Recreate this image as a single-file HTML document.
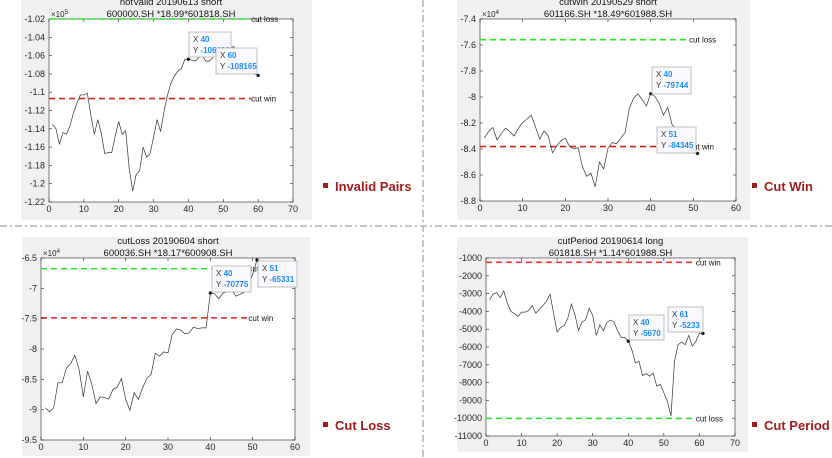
<!DOCTYPE html>
<html><head><meta charset="utf-8">
<style>
html,body{margin:0;padding:0;background:#fff;}
svg{display:block;font-family:"Liberation Sans",sans-serif;}
</style></head>
<body>
<svg id="c" width="832" height="458" viewBox="0 0 832 458" xmlns="http://www.w3.org/2000/svg"></svg>
<script>
// ---- data ----
const p1Values = [-1.135,-1.140,-1.157,-1.144,-1.146,-1.137,-1.123,-1.112,-1.103,-1.103,-1.101,-1.125,-1.146,-1.130,-1.145,-1.167,-1.166,-1.166,-1.148,-1.132,-1.146,-1.142,-1.183,-1.208,-1.190,-1.186,-1.160,-1.171,-1.167,-1.149,-1.130,-1.143,-1.121,-1.103,-1.090,-1.082,-1.077,-1.074,-1.064,-1.064,-1.065,-1.066,-1.062,-1.060,-1.066,-1.066,-1.062,-1.058,-1.056,-1.058,-1.054,-1.052,-1.050,-1.058,-1.064,-1.070,-1.074,-1.078,-1.080,-1.08165];
const p1Lines = [-1.02, -1.107];
const p1YTicks = [-1.22,-1.2,-1.18,-1.16,-1.14,-1.12,-1.1,-1.08,-1.06,-1.04,-1.02];
const p1XTicks = [0,10,20,30,40,50,60,70];

const p2Values = [-8.317,-8.266,-8.235,-8.33,-8.28,-8.24,-8.266,-8.30,-8.24,-8.196,-8.17,-8.14,-8.23,-8.325,-8.26,-8.30,-8.43,-8.376,-8.335,-8.317,-8.38,-8.40,-8.39,-8.535,-8.61,-8.585,-8.69,-8.50,-8.553,-8.394,-8.35,-8.36,-8.317,-8.273,-8.086,-8.01,-7.975,-8.02,-8.07,-7.9744,-7.996,-8.05,-8.14,-8.08,-8.21,-8.25,-8.30,-8.35,-8.40,-8.43,-8.4345];
const p2Lines = [-7.559, -8.381];
const p2YTicks = [-8.8,-8.6,-8.4,-8.2,-8,-7.8,-7.6,-7.4];
const p2XTicks = [0,10,20,30,40,50,60];

const p3Values = [-8.968,-9.034,-8.968,-8.557,-8.557,-8.31,-8.244,-8.10,-8.337,-8.79,-8.365,-8.584,-8.90,-8.79,-8.80,-8.825,-8.666,-8.63,-8.485,-8.83,-9.01,-8.72,-8.83,-8.64,-8.485,-8.42,-8.074,-8.118,-8.047,-8.063,-7.76,-7.668,-7.69,-7.75,-7.734,-7.64,-7.663,-7.652,-7.652,-7.0775,-7.09,-7.17,-7.08,-7.05,-6.995,-7.13,-7.10,-7.06,-6.94,-6.77,-6.5331];
const p3Lines = [-6.675, -7.487];
const p3YTicks = [-9.5,-9,-8.5,-8,-7.5,-7,-6.5];
const p3XTicks = [0,10,20,30,40,50,60];

const p4Values = [-3350,-3030,-2940,-3220,-2850,-3540,-4000,-4130,-4280,-4040,-4040,-3950,-3670,-4100,-3870,-3670,-3440,-3030,-4100,-5160,-4900,-4800,-4380,-3590,-4190,-5070,-4600,-4470,-3820,-4230,-5350,-4750,-5090,-4600,-4490,-4600,-5090,-5460,-5460,-5670,-6150,-6900,-6800,-7600,-7500,-7640,-7460,-8200,-8100,-8570,-9040,-9880,-6800,-5870,-5720,-5870,-5350,-5960,-5680,-5220,-5233];
const p4Lines = [-1240, -10010];
const p4YTicks = [-11000,-10000,-9000,-8000,-7000,-6000,-5000,-4000,-3000,-2000,-1000];
const p4XTicks = [0,10,20,30,40,50,60,70];

const NS = "http://www.w3.org/2000/svg";
const svg = document.getElementById('c');
function mk(tag, attrs, parent, text){
  const e = document.createElementNS(NS, tag);
  for (const k in attrs) e.setAttribute(k, attrs[k]);
  if (text !== undefined) e.textContent = text;
  (parent||svg).appendChild(e);
  return e;
}

function panel(cfg){
  const g = mk('g', {});
  
  
  const bg = mk('rect', {x:cfg.bg[0], y:cfg.bg[1], width:cfg.bg[2], height:cfg.bg[3], fill:'#f0f0f0'}, g);
  
  
  const L=cfg.ax[0], T=cfg.ax[1], R=cfg.ax[2], B=cfg.ax[3];
  const ax = mk('rect', {x:L, y:T, width:R-L, height:B-T, fill:'#fff', stroke:'#262626', 'stroke-width':0.6}, g);
  
  
  const xs = v => L + (v - cfg.xr[0])/(cfg.xr[1]-cfg.xr[0])*(R-L);
  const ys = v => B - (v - cfg.yr[0])/(cfg.yr[1]-cfg.yr[0])*(B-T);
  // ticks
  cfg.xt.forEach(t=>{
    const x = xs(t);
    mk('line',{x1:x,x2:x,y1:B,y2:B-3,stroke:'#262626','stroke-width':0.6},g);
    mk('line',{x1:x,x2:x,y1:T,y2:T+3,stroke:'#262626','stroke-width':0.6},g);
    const tx = mk('text',{x:x,y:B+10,'font-size':9,'text-anchor':'middle',fill:'#262626'},g,String(t));
    
    
  });
  cfg.yt.forEach(t=>{
    const y = ys(t);
    mk('line',{x1:L,x2:L+3,y1:y,y2:y,stroke:'#262626','stroke-width':0.6},g);
    mk('line',{x1:R,x2:R-3,y1:y,y2:y,stroke:'#262626','stroke-width':0.6},g);
    const ty = mk('text',{x:L-4,y:y+3,'font-size':9,'text-anchor':'end',fill:'#262626'},g,String(t));
    
    
  });
  if (cfg.exp){
    const ex = mk('text',{x:L+2,y:T-2,'font-size':8,fill:'#262626'},g);
    
    
    mk('tspan',{},ex,'×10');
    mk('tspan',{dy:-3,'font-size':6},ex,cfg.exp);
  }
  // titles
  const cx=(L+R)/2;
  const t1 = mk('text',{x:cx,y:T-14,'font-size':9.5,'text-anchor':'middle',fill:'#111'},g,cfg.title1);
  
  
  const t2 = mk('text',{x:cx,y:T-2,'font-size':9.5,'text-anchor':'middle',fill:'#111'},g,cfg.title2);
  
  
  // threshold lines
  const n = cfg.values.length;
  const endX = n - 2;
  cfg.lines.forEach((v,i)=>{
    const col = cfg.lineColors[i];
    const y = ys(v);
    const ln = mk('line',{x1:xs(0),x2:xs(endX),y1:y,y2:y,stroke:col,'stroke-width':1.6,'stroke-dasharray':'6,4'},g);
    
    
    const lt = mk('text',{x:xs(endX),y:y+3,'font-size':8,fill:'#111'},g,cfg.lineNames[i]);
    
    
  });
  // series
  const pts = cfg.values.map((v,i)=>xs(i+1).toFixed(2)+','+ys(v).toFixed(2)).join(' ');
  const pl = mk('polyline',{points:pts,fill:'none',stroke:'#333','stroke-width':0.7},g);
  
  
  // datatips
  cfg.tips.forEach(tp=>{
    const idx = tp.i;
    const px = xs(idx), py = ys(cfg.values[idx-1]);
    const dot = mk('circle',{cx:px,cy:py,r:1.6,fill:'#111'},g);
    
    
    const tg = mk('g',{},g);
    
    
    mk('rect',{x:tp.box[0],y:tp.box[1],width:tp.box[2],height:tp.box[3],fill:'#f9f9fd',stroke:'#a8a8a8','stroke-width':0.7},tg);
    const a = mk('text',{x:tp.box[0]+4,y:tp.box[1]+10,'font-size':8,fill:'#333'},tg,'X ');
    mk('tspan',{fill:'#1a8cff','font-weight':'bold'},a,String(idx));
    const yv = Math.round(cfg.values[idx-1]*cfg.scale);
    const b = mk('text',{x:tp.box[0]+4,y:tp.box[1]+21,'font-size':8,fill:'#333'},tg,'Y ');
    mk('tspan',{fill:'#1a8cff','font-weight':'bold'},b,String(yv));
  });
}

panel({name:'invalid-pairs-chart', bg:[21,0,291,220], ax:[49,19,293,202], xr:[0,70], yr:[-1.22,-1.02],
  xt:p1XTicks, yt:p1YTicks, exp:'5', title1:'notValid 20190613 short', title2:'600000.SH *18.99*601818.SH',
  values:p1Values, lines:p1Lines, lineColors:['#22e822','#e02020'], lineNames:['cut loss','cut win'], scale:1e5,
  tips:[{i:40, box:[189,32,42,25]},{i:60, box:[216,48,41,26]}]});

panel({name:'cut-win-chart', bg:[457,0,293,220], ax:[480,19,736,201], xr:[0,60], yr:[-8.8,-7.4],
  xt:p2XTicks, yt:p2YTicks, exp:'4', title1:'cutWin 20190529 short', title2:'601166.SH *18.49*601988.SH',
  values:p2Values, lines:p2Lines, lineColors:['#22e822','#e02020'], lineNames:['cut loss','cut win'], scale:1e4,
  tips:[{i:40, box:[652,67,39,27]},{i:51, box:[657,127,39,26]}]});

panel({name:'cut-loss-chart', bg:[22,237,288,219], ax:[41,258,295,440], xr:[0,60], yr:[-9.5,-6.5],
  xt:p3XTicks, yt:p3YTicks, exp:'4', title1:'cutLoss 20190604 short', title2:'600036.SH *18.17*600908.SH',
  values:p3Values, lines:p3Lines, lineColors:['#22e822','#e02020'], lineNames:['cut loss','cut win'], scale:1e4,
  tips:[{i:40, box:[212,266,39,26]},{i:51, box:[258,261,39,26]}]});

panel({name:'cut-period-chart', bg:[457,237,291,215], ax:[486,258,735,436], xr:[0,70], yr:[-11000,-1000],
  xt:p4XTicks, yt:p4YTicks, exp:null, title1:'cutPeriod 20190614 long', title2:'601818.SH *1.14*601988.SH',
  values:p4Values, lines:p4Lines, lineColors:['#f03030','#22e822'], lineNames:['cut win','cut loss'], scale:1,
  tips:[{i:40, box:[629,315,35,25]},{i:61, box:[668,307,35,25]}]});

// dividers
const dv = mk('line',{x1:423,x2:423,y1:0,y2:458,stroke:'#b4b4ac','stroke-width':1.5,'stroke-dasharray':'7,3,2,3'});


const dh = mk('line',{x1:0,x2:832,y1:226,y2:226,stroke:'#b4b4ac','stroke-width':1.5,'stroke-dasharray':'7,3,2,3'});



// labels
[['Invalid Pairs',323,191,'invalid-pairs-label'],['Cut Win',752,191,'cut-win-label'],['Cut Loss',323,430,'cut-loss-label'],['Cut Period',752,430,'cut-period-label']].forEach(l=>{
  const g = mk('g',{});
  
  
  mk('rect',{x:l[1],y:l[2]-8,width:5,height:5,fill:'#a31d1d'},g);
  mk('text',{x:l[1]+12,y:l[2],'font-size':13,'font-weight':'bold',fill:'#a31d1d'},g,l[0]);
});
</script>
</body></html>
